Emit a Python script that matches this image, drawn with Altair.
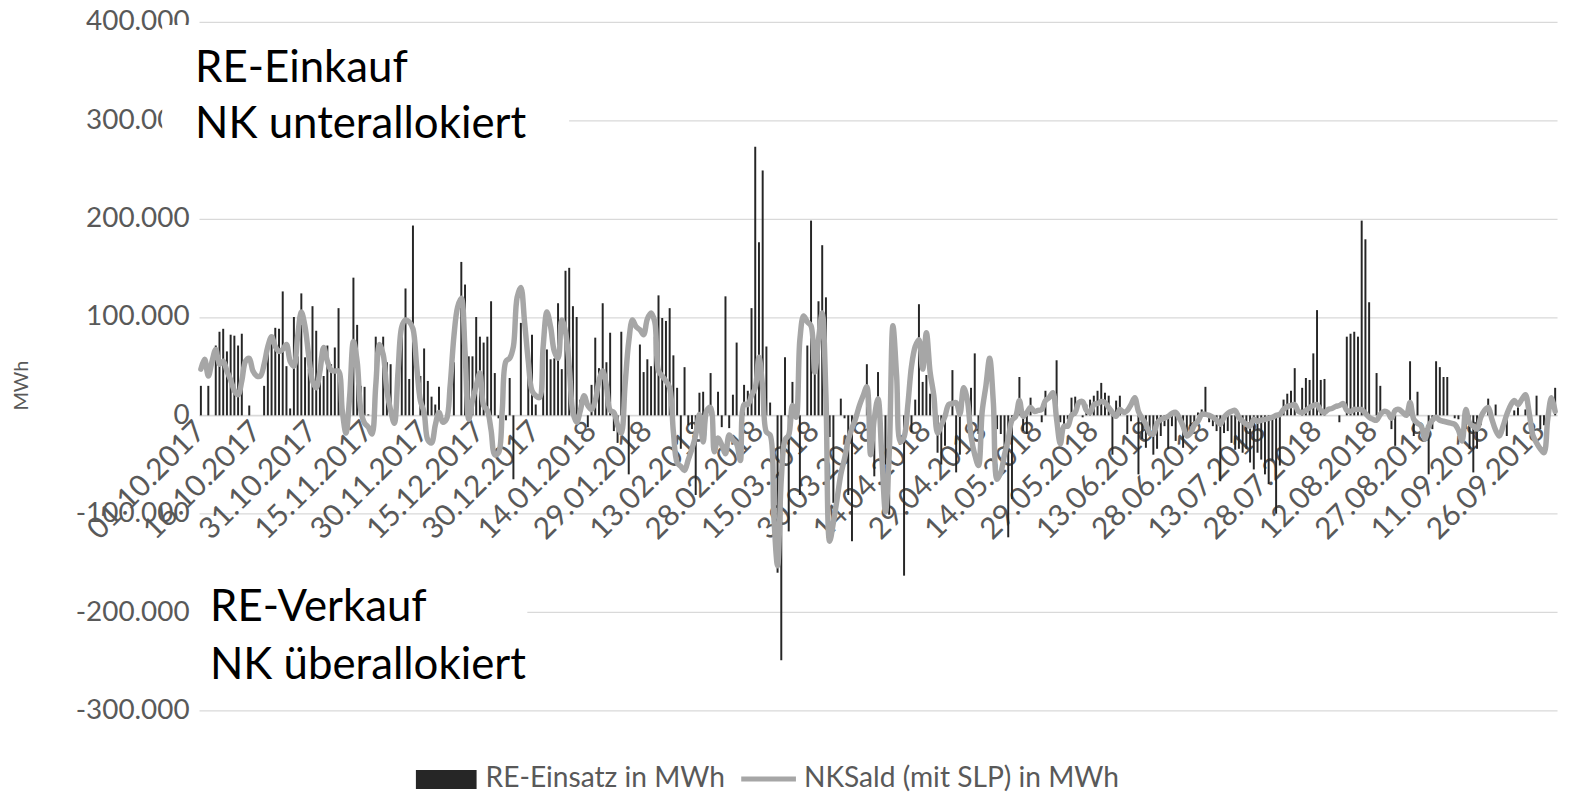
import altair as alt
import pandas as pd

# ---------------- data (values in 1.000 MWh) ----------------
dates = [d.strftime("%d.%m.%Y") for d in pd.date_range("2017-10-01", periods=365, freq="D")]

tick_labels = ["01.10.2017", "16.10.2017", "31.10.2017", "15.11.2017", "30.11.2017",
               "15.12.2017", "30.12.2017", "14.01.2018", "29.01.2018", "13.02.2018",
               "28.02.2018", "15.03.2018", "30.03.2018", "14.04.2018", "29.04.2018",
               "14.05.2018", "29.05.2018", "13.06.2018", "28.06.2018", "13.07.2018",
               "28.07.2018", "12.08.2018", "27.08.2018", "11.09.2018", "26.09.2018"]

y_ticks = [-300, -200, -100, 0, 100, 200, 300, 400]

re_einsatz = [
    30, 0, 30, 0, 71, 85, 88, 65, 82, 81,
    71, 83, 0, 10, 0, 0, 0, 30, 69, 78,
    89, 88, 126, 50, 7, 100, 60, 124, 59, 47,
    111, 86, 59, 40, 71, 52, 69, 109, 0, 0,
    0, 140, 92, 30, 29, 1, 0, 80, 0, 80,
    54, 52, 0, 0, 80, 129, 37, 193, 0, 40,
    68, 35, 19, 11, 29, 0, 0, 0, 54, 0,
    156, 133, 60, 60, 100, 80, 74, 80, 116, 43,
    -3, 0, -5, 38, -65, 0, 94, 0, 50, 82,
    11, 0, 47, 67, 57, 58, 114, 47, 147, 150,
    111, 100, 16, 0, -12, 31, 79, 48, 114, 54,
    84, -16, -28, 85, 6, -60, 0, 0, 72, 44,
    57, 50, 80, 122, 99, 96, 109, 61, 28, -34,
    49, -10, -14, -81, 23, 24, 0, 43, 0, 24,
    -12, 121, -13, 21, 74, 0, 31, 25, 109, 273,
    176, 249, 70, 13, 0, -160, -249, 59, -118, 34,
    0, -81, 0, 71, 198, 42, 116, 173, 120, -22,
    -89, 0, 17, -3, -81, -128, -5, 0, 0, 52,
    0, -62, 44, 0, -50, -101, 0, 0, 0, -163,
    0, -17, 16, 113, 34, 41, 22, 0, -38, -50,
    -31, 0, 46, -58, -40, 0, 0, 28, 63, -19,
    0, 0, 0, -11, -14, -19, -33, -124, -85, 0,
    39, -16, -19, 18, 0, 0, -7, 25, 0, 0,
    56, -7, -11, -4, 18, 19, 0, -2, 11, 16,
    20, 25, 33, 23, 20, -40, 15, 20, 0, -19,
    -6, 0, -60, -24, -33, -21, -40, -34, -21, -11,
    -34, -11, -26, 0, -33, -21, -11, -11, 3, 6,
    29, -7, -11, -16, -67, -18, -16, -28, -35, -34,
    -38, -34, -48, -55, -38, -45, -60, -70, -46, -100,
    -51, 16, 22, 25, 48, 0, 28, 38, 36, 63,
    107, 36, 37, 0, 0, 0, -7, 0, 80, 83,
    85, 80, 198, 179, 115, 0, 43, 30, 0, 0,
    -14, -31, 0, 0, 0, 55, -21, 24, 0, 0,
    -60, -14, 55, 49, 39, 39, 0, -3, -4, 0,
    -14, -34, -58, -34, -10, 0, 17, 0, 11, 0,
    0, -21, 0, 5, 8, 0, 6, 0, 0, 20,
    -14, -10, 0, 0, 28]

nk_saldo = [
    47, 57, 40, 55, 67, 52, 55, 45, 36, 25,
    21, 35, 55, 58, 45, 40, 40, 52, 70, 80,
    70, 65, 67, 72, 55, 50, 80, 105, 90, 60,
    35, 28, 45, 69, 55, 46, 45, 45, 5, -18,
    20, 75, 55, 5, -8, -12, -19, 30, 72, 62,
    25, 5, -8, 45, 90, 97, 95, 88, 50, 15,
    3, -25, -28, -10, 3, -7, -4, 30, 80, 110,
    119, 65, -4, 15, 30, 43, 10, 5, -15, -40,
    -38, 5, 55, 58, 70, 120, 130, 95, 55, 25,
    20, 18, 70, 105, 90, 65, 58, 97, 85, 50,
    3, -7, 5, 20, 10, 6, 15, 35, 45, 30,
    5, 3, -10, -18, 30, 75, 97, 90, 87, 82,
    98, 104, 95, 45, 40, 35, 28, -17, -48, -52,
    -56, -45, -34, -20, 1, -27, 5, 8, -37, -23,
    -30, -39, -20, -25, -29, -46, 11, 11, 20, 28,
    59, 28, -17, -20, -103, -153, -65, -25, -20, 10,
    -2, 77, 101, 95, 91, 44, 77, 104, 20, -128,
    -109, -85, -60, -44, -25, -13, -3, 10, 20, 29,
    -40, -3, 17, -40, -98, -40, 91, 40, -27, -22,
    10, 50, 70, 77, 47, 84, 44, 20, -18, -10,
    -1, 11, 12, 13, 1, 28, 16, -21, -40, -51,
    4, 30, 58, 13, -65, -58, -40, -24, -5, -1,
    15, -1, 3, 8, 4, 5, 6, 15, 18, 23,
    -4, -29, -11, -11, 0, 3, 13, 14, 5, 3,
    11, 12, 14, 13, 8, 3, -1, 6, 3, 5,
    11, 18, 4, -3, -9, -18, -19, -8, -4, -3,
    -1, 2, 3, -3, -11, -21, -18, -10, -6, 1,
    1, 0, -2, -5, -9, -2, 2, 4, 5, -2,
    -6, -9, -11, -4, -6, -5, -4, -3, -2, 0,
    1, 6, 9, 10, 11, 4, 3, 5, 8, 10,
    11, 5, 3, 6, 7, 9, 10, 12, 5, 4,
    6, 6, 6, 2, -2, -4, -5, 1, 4, 3,
    -3, 5, 6, 3, 0, 13, -4, -8, -11, -24,
    -11, -5, -2, -5, -6, -7, -8, -9, -15, -26,
    6, -8, -11, -14, -2, 5, 8, -4, -15, -21,
    -11, 1, 10, 15, 11, 16, 21, 3, -20, -28,
    -34, -38, -4, 18, 4]

series_names = ["RE-Einsatz in MWh", "NKSald (mit SLP) in MWh"]

df = pd.DataFrame({"Datum": dates, "RE": re_einsatz, "NK": nk_saldo})

# ---------------- layout ----------------
W, H = 1365, 692
FONT = "Lato"
GRAY = "#595959"
GRID = "#d9d9d9"
LINE = "#a6a6a6"
BAR = "#262626"

x_enc = alt.X(
    "Datum:O", sort=None,
    scale=alt.Scale(paddingInner=0.47, paddingOuter=0.235),
    axis=alt.Axis(values=tick_labels, labelAngle=-45, labelAlign="right",
                  labelBaseline="middle", labelFontSize=30, labelColor=GRAY,
                  labelFont=FONT, ticks=False, domain=True, domainColor=GRID,
                  domainWidth=1.3, offset=-H * 3 / 7, labelPadding=11,
                  labelOverlap=False, labelBound=False, title=None, grid=False))

y_scale = alt.Scale(domain=[-300, 400], nice=False, zero=False)
y_axis = alt.Axis(values=y_ticks,
                  labelExpr="datum.value == 0 ? '0' : datum.value + '.000'",
                  labelFontSize=28, labelColor=GRAY, labelFont=FONT,
                  labelPadding=10, ticks=False, domain=False,
                  grid=True, gridColor=GRID, gridWidth=1.3,
                  title="MWh", titleFont=FONT, titleFontSize=20,
                  titleFontWeight="normal", titleColor=GRAY,
                  titleX=-178, titleY=365, titleAngle=-90,
                  titleAlign="center", titleBaseline="middle")

base = alt.Chart(df)

bars = base.mark_bar(color=BAR).encode(
    x=x_enc,
    y=alt.Y("RE:Q", scale=y_scale, axis=y_axis),
)

line = base.mark_line(color=LINE, strokeWidth=5.5, interpolate="catmull-rom",
                      strokeCap="round", strokeJoin="round").encode(
    x=x_enc,
    y=alt.Y("NK:Q", scale=y_scale),
)

one = pd.DataFrame({"k": [0]})

box1 = alt.Chart(one).mark_rect(color="white").encode(
    x=alt.value(-37), x2=alt.value(372), y=alt.value(3), y2=alt.value(145))
box2 = alt.Chart(one).mark_rect(color="white").encode(
    x=alt.value(-2), x2=alt.value(330), y=alt.value(560), y2=alt.value(680))

def label(txt, x, y, size=44, color="black"):
    return alt.Chart(one).mark_text(text=txt, align="left", baseline="alphabetic",
                                    font=FONT, fontSize=size, color=color).encode(
        x=alt.value(x), y=alt.value(y))

t1 = label("RE-Einkauf", -4, 60)
t2 = label("NK unterallokiert", -4, 117)
t3 = label("RE-Verkauf", 11, 602)
t4 = label("NK überallokiert", 11, 660)

# legend
leg_rect = alt.Chart(one).mark_rect(color=BAR).encode(
    x=alt.value(218), x2=alt.value(279), y=alt.value(752), y2=alt.value(771))
leg_t1 = label(series_names[0], 288, 769, size=28.3, color=GRAY)
leg_line = alt.Chart(one).mark_rule(color=LINE, strokeWidth=5).encode(
    x=alt.value(545), x2=alt.value(600), y=alt.value(761))
leg_t2 = label(series_names[1], 608, 769, size=28.3, color=GRAY)

chart = alt.layer(
    bars, line, box1, box2, t1, t2, t3, t4, leg_rect, leg_t1, leg_line, leg_t2
).properties(
    width=W, height=H,
    autosize=alt.AutoSizeParams(type="none"),
    padding={"left": 192, "top": 12, "right": 4, "bottom": 80},
).configure(font=FONT).configure_view(stroke=None)

chart.save("out.html", embed_options={"renderer": "svg", "actions": False})
